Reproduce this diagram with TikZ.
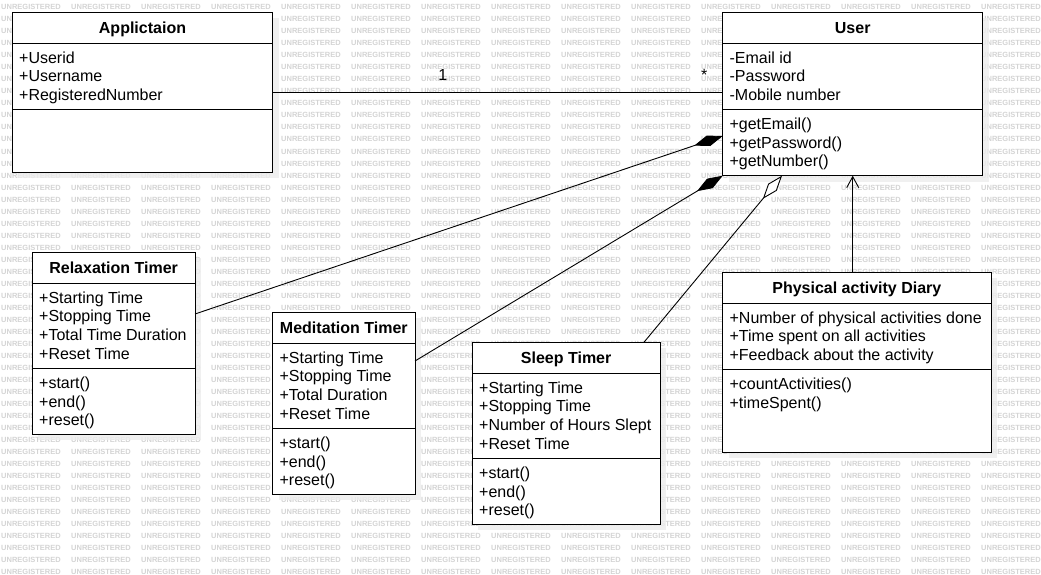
\documentclass[tikz,border=0pt]{standalone}
\usepackage{fontspec}
\setmainfont{Liberation Sans}
\usetikzlibrary{arrows.meta}

% one class box: name, left, top, right, bottom, separator y, title, attributes, methods
\newcommand{\umlclass}[9]{%
  \fill[shadowbox] (#2+6,#3+6) rectangle (#4+6,#5+6);
  \node[classbox,minimum width={#4pt-#2pt},minimum height={#5pt-#3pt}] (#1) at (#2,#3) {};
  \node[classtitle] (#1-title) at ({(#2+#4)/2},#3+15.5) {#7};
  \draw[classline] (#2,#3+31) -- (#4,#3+31);
  \draw[classline] (#2,#6) -- (#4,#6);
  \foreach \m [count=\i] in {#8}
    \node[member] (#1-a\i) at (#2+6.7,#3+26.33+18.67*\i) {\m};
  \foreach \m [count=\i] in {#9}
    \node[member] (#1-m\i) at (#2+6.7,#6-4.27+18.67*\i) {\m};
}

\begin{document}
\begin{tikzpicture}[
      x=1pt,y=-1pt,
      classbox/.style={draw,fill=white,line width=1pt,anchor=north west,
                       inner sep=0pt,outer sep=0pt},
      classtitle/.style={font=\fontsize{16}{19}\selectfont\bfseries,inner sep=0pt,
                         text height=11.5pt,text depth=0pt},
      member/.style={font=\fontsize{16}{19}\selectfont,anchor=west,inner sep=0pt,
                     text height=11.5pt,text depth=0pt},
      classline/.style={line width=1pt},
      shadowbox/.style={fill=black!7,opacity=0.8},
      watermark/.style={font=\fontsize{7.5}{8}\selectfont\bfseries,text=black!17,
                        anchor=west,inner sep=0pt,text height=5.4pt,text depth=0pt},
      multlabel/.style={font=\fontsize{16}{19}\selectfont,inner sep=0pt,
                        text height=11.5pt,text depth=0pt},
      link/.style={line width=0.9pt},
      composition/.style={link,-{Diamond[length=30pt,width=11pt]}},
      aggregation/.style={link,-{Diamond[open,fill=white,length=30pt,width=11pt]}},
      dependency/.style={link,-{Straight Barb[length=11pt,width=12pt]}}
    ]
    \useasboundingbox (0,0) rectangle (1041,575);
    \fill[white] (0,0) rectangle (1041,575);
    % background stamp
    \foreach \r in {0,...,47}
      \foreach \c in {0,...,14}
        \node[watermark] (wm-\r-\c) at (1+70*\c,7.3+12*\r) {UNREGISTERED};

    \umlclass{app}{12.3}{12.3}{272.7}{172.3}{109.3}{Applictaion}
      {+Userid,+Username,+RegisteredNumber}{}
    \umlclass{user}{722.7}{12.3}{982.7}{175.7}{109.3}{User}
      {-Email id,-Password,-Mobile number}{+getEmail(),+getPassword(),+getNumber()}
    \umlclass{relax}{32.3}{252.3}{195}{434.3}{368.3}{Relaxation Timer}
      {+Starting Time,+Stopping Time,+Total Time Duration,+Reset Time}
      {+start(),+end(),+reset()}
    \umlclass{med}{272.7}{312.3}{415}{494.3}{428.3}{Meditation Timer}
      {+Starting Time,+Stopping Time,+Total Duration,+Reset Time}
      {+start(),+end(),+reset()}
    \umlclass{sleep}{472.3}{342.3}{660}{524.3}{458.3}{Sleep Timer}
      {+Starting Time,+Stopping Time,+Number of Hours Slept,+Reset Time}
      {+start(),+end(),+reset()}
    \umlclass{diary}{722.7}{272.3}{991}{452.3}{369.3}{Physical activity Diary}
      {+Number of physical activities done,+Time spent on all activities,
       +Feedback about the activity}
      {+countActivities(),+timeSpent()}

    % relations
    \draw[link] (app.east) -- (app.east -| user.west);
    \node[multlabel] (mult-app) at (442.7,75) {1};
    \node[multlabel] (mult-user) at (704.3,75) {*};
    \draw[composition] ([yshift=29.3pt]relax.east) -- ([yshift=-42pt]user.west);
    \draw[composition] ([yshift=42.3pt]med.east) -- (user.south west);
    \draw[aggregation] ([xshift=77.8pt]sleep.north) -- ([xshift=-70.7pt]user.south);
    \draw[dependency] (diary.north -| user.south) -- (user.south);
\end{tikzpicture}
\end{document}
